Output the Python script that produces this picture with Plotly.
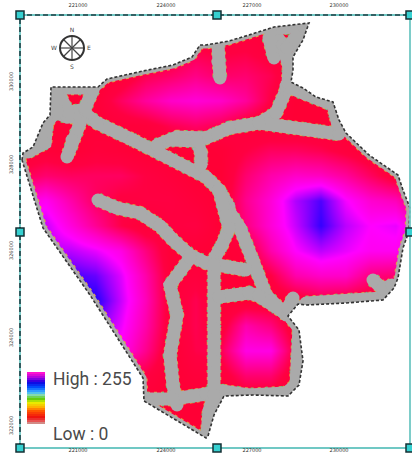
import plotly.graph_objects as go

# Interpolated surface sampled on a coarse map grid
grid_x = [20, 45, 70, 95, 120, 145, 170, 195, 220, 245, 270, 295, 320, 345, 370, 395, 420]
grid_y = [25, 50, 75, 100, 125, 150, 175, 200, 225, 250, 275, 300, 325, 350, 375, 400, 425, 450]
grid_values = [
    [0, 0, 0, 0, 0, 0, 0, 10, 15, 10, 5, 0, 0, 0, 0, 0, 0],
    [0, 0, 0, 0, 0, 0, 10, 35, 25, 30, 15, 0, 0, 0, 0, 0, 0],
    [0, 0, 0, 0, 5, 40, 55, 75, 55, 60, 40, 0, 0, 0, 0, 0, 0],
    [0, 0, 0, 5, 50, 90, 120, 130, 120, 90, 30, 0, 0, 0, 0, 0, 0],
    [0, 5, 5, 5, 10, 15, 40, 55, 40, 10, 0, 0, 0, 0, 0, 0, 0],
    [0, 10, 0, 15, 10, 0, 0, 0, 5, 30, 50, 50, 40, 20, 0, 0, 0],
    [40, 60, 50, 50, 50, 30, 15, 0, 0, 60, 100, 120, 115, 90, 50, 10, 0],
    [130, 150, 100, 50, 25, 30, 30, 15, 0, 80, 130, 195, 235, 165, 125, 110, 40],
    [170, 185, 135, 85, 35, 5, 25, 30, 0, 70, 130, 185, 245, 190, 160, 170, 120],
    [190, 190, 190, 170, 140, 70, 5, 5, 0, 10, 100, 160, 190, 170, 150, 150, 120],
    [230, 240, 240, 225, 175, 100, 10, 20, 0, 0, 30, 100, 120, 120, 70, 60, 30],
    [250, 255, 255, 255, 185, 110, 10, 40, 0, 0, 5, 10, 30, 20, 10, 0, 0],
    [220, 220, 220, 220, 170, 100, 10, 40, 10, 100, 70, 0, 0, 0, 0, 0, 0],
    [150, 150, 150, 150, 150, 80, 0, 35, 40, 140, 140, 20, 0, 0, 0, 0, 0],
    [30, 30, 30, 30, 30, 30, 0, 15, 10, 60, 60, 0, 0, 0, 0, 0, 0],
    [0, 0, 0, 0, 0, 0, 0, 0, 0, 0, 0, 0, 0, 0, 0, 0, 0],
    [0, 0, 0, 0, 0, 0, 0, 0, 0, 0, 0, 0, 0, 0, 0, 0, 0],
    [0, 0, 0, 0, 0, 0, 0, 0, 0, 0, 0, 0, 0, 0, 0, 0, 0],
]
surface_scale = [[0, "#ff0035"], [0.12, "#ff0042"], [0.28, "#ff0080"], [0.47, "#ff00c8"], [0.63, "#ff00ff"],
                 [0.82, "#9000ff"], [1, "#1c00ff"]]

# Site boundary
boundary_x = [22, 23, 33, 38, 43, 50, 51, 98, 107, 143, 173, 192, 200, 206, 229, 249, 274, 309, 303, 293, 293, 291,
              303, 316, 333, 339, 346, 369, 398, 403, 410, 409, 403, 398, 394, 383, 346, 306, 298, 288, 299, 303,
              299, 288, 253, 224, 214, 208, 206, 144, 143, 90, 43, 22]
boundary_y = [160, 153, 147, 135, 123, 115, 87, 87, 79, 71, 65, 57, 45, 45, 41, 35, 27, 23, 40, 57, 70, 82,
              88, 97, 102, 120, 133, 155, 175, 190, 208, 231, 248, 278, 288, 300, 303, 305, 304, 316, 330, 361,
              385, 396, 395, 396, 415, 436, 438, 401, 378, 295, 228, 160]

# Road network
roads = {
    "main": ([80, 97, 133, 160, 206, 219, 229], [110, 123, 140, 153, 177, 190, 207]),
    "main_south": ([225, 240, 253, 266, 286], [205, 228, 261, 295, 315]),
    "fork": ([219, 226, 229, 222, 213], [190, 215, 228, 245, 261]),
    "upper": ([157, 177, 206, 229, 259, 276, 286], [145, 137, 138, 128, 123, 113, 90]),
    "upper_east": ([259, 306, 339], [123, 129, 134]),
    "loop": ([172, 197, 201, 201], [140, 141, 153, 165]),
    "ring_east": ([286, 305, 320, 333, 338], [86, 94, 98, 105, 125]),
    "west_a": ([82, 72, 67], [118, 140, 157]),
    "west_b": ([80, 67, 55, 47, 45, 28], [117, 117, 112, 123, 143, 152]),
    "nw_a": ([58, 68, 85], [92, 112, 110]),
    "nw_b": ([64, 90], [88, 88]),
    "nw_c": ([57, 57], [92, 110]),
    "nw_d": ([93, 85], [90, 108]),
    "spur": ([98, 117, 140, 160, 173, 190, 206, 246], [200, 208, 213, 226, 240, 255, 263, 270]),
    "central_south": ([190, 170, 177, 170, 173, 177], [258, 285, 315, 355, 385, 405]),
    "south_band": ([147, 173, 206, 223, 249, 286, 296, 299, 291],
                   [399, 399, 394, 391, 395, 393, 385, 328, 318]),
    "vertical": ([214, 214, 214, 214, 209, 207], [265, 328, 361, 395, 411, 435]),
    "cross": ([219, 249, 259, 288], [297, 293, 296, 315]),
    "ne_stub": ([288, 293], [308, 298]),
    "south_east": ([306, 346, 383, 392], [303, 301, 298, 288]),
    "hook": ([373, 383, 392], [280, 289, 285]),
    "north_stub": ([218, 218, 220], [45, 62, 78]),
    "ne_a": ([269, 274], [38, 58]),
    "ne_b": ([272, 283, 289, 288], [30, 45, 67, 83]),
    "ne_band": ([270, 306], [29, 26]),
    "ne_c": ([304, 287], [27, 48]),
}

# Ramp
legend_levels = [255, 245, 235, 225, 215, 205, 195, 185, 175, 165, 155, 145, 135, 125, 115, 105, 95, 85, 75, 65,
                 55, 45, 35, 25, 15, 5]
legend_y = [373, 375, 377, 379, 381, 383, 385, 387, 389, 391, 393, 395, 397, 399, 401, 403, 405, 407, 409, 411,
            413, 415, 417, 419, 421, 423]
legend_x = [31.5, 40.5]
legend_scale = [[0, "#c8a8a0"], [0.06, "#e85050"], [0.13, "#ee1010"], [0.25, "#ff5000"], [0.33, "#ffb000"],
                [0.42, "#e8f000"], [0.5, "#50c810"], [0.56, "#90e0a0"], [0.62, "#40b8ff"], [0.72, "#0050ff"],
                [0.82, "#1000e0"], [0.9, "#a000e0"], [1, "#ff10d0"]]
legend_labels = ["High : 255", "Low : 0"]

# Graticule labels
top_ticks = [78, 166, 252, 339]
left_ticks = [82, 165, 251, 338, 426]
x_tick_text = ["221000", "224000", "227000", "230000"]
y_tick_text = ["330000", "328000", "326000", "324000", "322000"]
corner_x = [20, 217, 410, 20, 410, 20, 217, 410]
corner_y = [15, 15, 15, 232, 232, 448, 448, 448]

# Compass
compass_x = [72]
compass_y = [48]
spoke_x = [60, 84, None, 72, 72, None, 64, 80, None, 64, 80]
spoke_y = [48, 48, None, 36, 60, None, 40, 56, None, 56, 40]
compass_letters = ["N", "E", "S", "W"]
letter_x = [72, 89, 72, 54]
letter_y = [30, 48, 67, 48]

fig = go.Figure()
fig.add_trace(go.Heatmap(x=grid_x, y=grid_y, z=grid_values, zmin=0, zmax=255, colorscale=surface_scale,
                         zsmooth="best", showscale=False, hoverinfo="skip"))

for nm, (rx, ry) in roads.items():
    fig.add_trace(go.Scatter(x=rx, y=ry, mode="lines", line=dict(color="#e0a040", width=14.5, dash="3px,4px")))
    fig.add_trace(go.Scatter(x=rx, y=ry, mode="lines", line=dict(color="#60c070", width=14.5, dash="2px,13px")))
fig.add_trace(go.Scatter(x=boundary_x, y=boundary_y, mode="lines", line=dict(color="#e0a040", width=9, dash="3px,4px")))
fig.add_trace(go.Scatter(x=boundary_x, y=boundary_y, mode="lines", line=dict(color="#aaaaaa", width=7)))
for nm, (rx, ry) in roads.items():
    fig.add_trace(go.Scatter(x=rx, y=ry, mode="lines+markers", line=dict(color="#aaaaaa", width=13),
                             marker=dict(color="#aaaaaa", size=13)))

# White outside the site
mask_x = [0, 412, 412, 0, 0] + boundary_x[::-1] + [0]
mask_y = [0, 0, 455, 455, 0] + boundary_y[::-1] + [0]
fig.add_trace(go.Scatter(x=mask_x, y=mask_y, mode="none", fill="toself", fillcolor="white"))
fig.add_trace(go.Scatter(x=boundary_x, y=boundary_y, mode="lines", line=dict(color="#333333", width=1.6, dash="3px,2px")))

# Frame
frame_x = [20, 410, 410, 20, 20]
frame_y = [15, 15, 448, 448, 15]
fig.add_trace(go.Scatter(x=frame_x, y=frame_y, mode="lines", line=dict(color="#70c8c4", width=1.8)))
fig.add_trace(go.Scatter(x=frame_x[3:] + frame_x[:2], y=frame_y[3:] + frame_y[:2], mode="lines",
                         line=dict(color="#1f3f44", width=1.6, dash="5px,3px")))
fig.add_trace(go.Scatter(x=corner_x, y=corner_y, mode="markers",
                         marker=dict(symbol="square", size=8, color="#36d0d0", line=dict(color="#153035", width=1.5))))

# Tick marks and labels
fig.add_trace(go.Scatter(x=top_ticks, y=[6] * 4, mode="text", text=x_tick_text,
                         textfont=dict(size=5, color="#333333", family="DejaVu Sans")))
fig.add_trace(go.Scatter(x=top_ticks, y=[451] * 4, mode="text", text=x_tick_text,
                         textfont=dict(size=5, color="#333333", family="DejaVu Sans")))
for ty, lab in zip(left_ticks, y_tick_text):
    fig.add_annotation(x=11, y=ty, text=lab, textangle=-90, showarrow=False,
                       font=dict(size=5, color="#333333", family="DejaVu Sans"))

# Compass
fig.add_trace(go.Scatter(x=spoke_x, y=spoke_y, mode="lines", line=dict(color="#444444", width=1.2)))
fig.add_trace(go.Scatter(x=compass_x, y=compass_y, mode="markers",
                         marker=dict(size=24, color="rgba(0,0,0,0)", line=dict(color="#333333", width=2))))
fig.add_trace(go.Scatter(x=letter_x, y=letter_y, mode="text", text=compass_letters,
                         textfont=dict(size=6, color="#444444", family="DejaVu Sans")))

# Legend (on an overlaid subplot so that it sits above the white mask)
fig.add_trace(go.Heatmap(x=legend_x, y=legend_y, z=[[v, v] for v in legend_levels], zmin=0, zmax=255,
                         colorscale=legend_scale, showscale=False, hoverinfo="skip", xaxis="x2", yaxis="y2"))
fig.add_trace(go.Scatter(x=[53, 53], y=[381, 436], mode="text", text=legend_labels, textposition="middle right",
                         textfont=dict(size=17.5, color="#4a4a4a", family="Roboto")))

fig.update_layout(
    width=412, height=455, autosize=False, showlegend=False, hovermode=False,
    margin=dict(l=0, r=0, t=0, b=0), paper_bgcolor="white", plot_bgcolor="white",
    xaxis=dict(range=[0, 412], visible=False, fixedrange=True),
    yaxis=dict(range=[455, 0], visible=False, fixedrange=True),
    xaxis2=dict(range=[0, 412], visible=False, fixedrange=True, overlaying="x"),
    yaxis2=dict(range=[455, 0], visible=False, fixedrange=True, overlaying="y"),
)
fig.write_html("out.html", config=dict(displayModeBar=False),
               post_script="document.body.style.margin='0';document.documentElement.style.overflow='hidden';")
